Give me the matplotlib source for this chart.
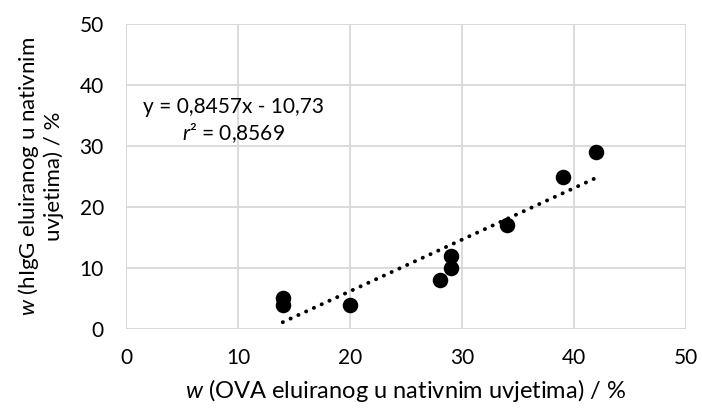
import numpy as np
import matplotlib
matplotlib.use("Agg")
import matplotlib.pyplot as plt

# Data
ova = [14, 14, 20, 28, 29, 29, 34, 39, 42]
higg = [5, 4, 4, 8, 10, 12, 17, 25, 29]
slope = 0.8457
intercept = -10.73
xticks = [0, 10, 20, 30, 40, 50]
yticks = [0, 10, 20, 30, 40, 50]

plt.rcParams['font.family'] = ['Lato', 'DejaVu Sans']
plt.rcParams['mathtext.fontset'] = 'custom'
plt.rcParams['mathtext.rm'] = 'Lato'
plt.rcParams['mathtext.it'] = 'Lato:italic'

fig = plt.figure(figsize=(7.02, 4.12), dpi=100)
ax = fig.add_axes([0.1795, 0.2015, 0.7975, 0.7402])

# trendline over the data range
xs = np.array([min(ova), max(ova)])
ax.plot(xs, slope * xs + intercept, color='black', linestyle=(0, (0.05, 2.15)),
        linewidth=2.8, dash_capstyle='round', zorder=2)
ax.scatter(ova, higg, s=125, color='black', linewidths=0, zorder=3)

ax.set_xlim(0, 50)
ax.set_ylim(0, 50)
ax.set_xticks(xticks)
ax.set_yticks(yticks)
ax.tick_params(length=0, labelsize=15, colors='black')
ax.tick_params(axis='x', pad=14)
ax.tick_params(axis='y', pad=16)
ax.grid(color='#d9d9d9', linewidth=1.3)
ax.set_axisbelow(True)
for s in ax.spines.values():
    s.set_visible(False)
# border lines drawn like gridlines
for v in (0, 50):
    ax.axhline(v, color='#d9d9d9', linewidth=1.3, zorder=0)
    ax.axvline(v, color='#d9d9d9', linewidth=1.3, zorder=0)

ax.set_xlabel(r'$\it{w}$ (OVA eluiranog u nativnim uvjetima) / %', fontsize=17, labelpad=6)
ax.set_ylabel('$\\it{w}$ (hIgG eluiranog u nativnim\nuvjetima) / %', fontsize=16,
              labelpad=11, linespacing=1.15)

ax.text(9.64, 34.1, 'y = 0,8457x - 10,73\n$\\it{r}$² = 0,8569', ha='center', va='center',
        fontsize=15, linespacing=1.25)

fig.savefig('out.png', dpi=100)
